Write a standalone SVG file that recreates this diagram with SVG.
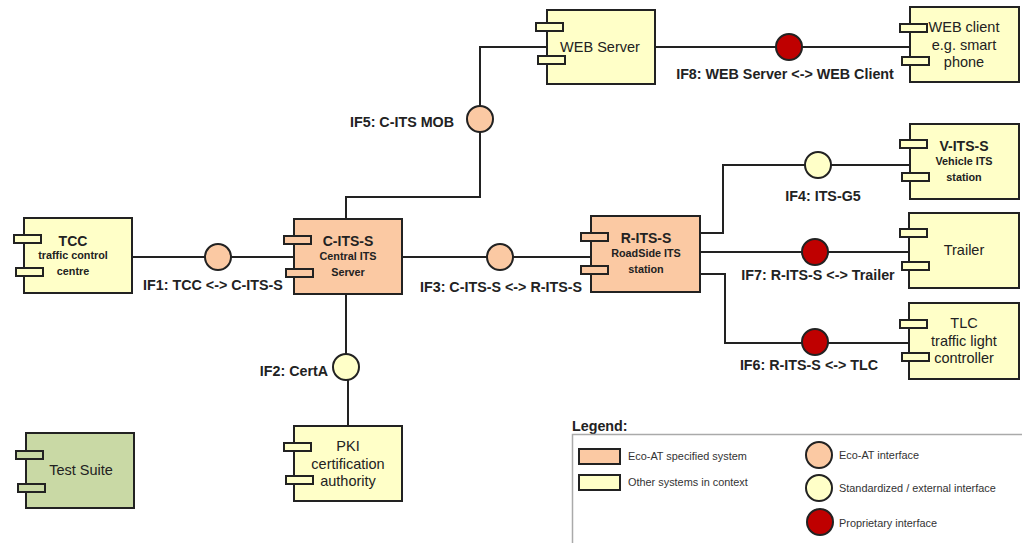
<svg xmlns="http://www.w3.org/2000/svg" width="1022" height="543" viewBox="0 0 1022 543">
<style>
text{font-family:"Liberation Sans",Arial,sans-serif;fill:#222;text-anchor:middle}
.b{stroke:#222;stroke-width:2}
.o{fill:#fbc9a3}.y{fill:#ffffc8}.g{fill:#c9d9a5}.r{fill:#bf0000}
.t{font-size:14px;font-weight:bold}
.s{font-size:10.800px;font-weight:bold}
.n{font-size:14.500px}
.l{font-size:14.300px;font-weight:bold}
.k{font-size:10.900px;text-anchor:start;fill:#333}
.c{fill:none;stroke:#222;stroke-width:2}
</style>
<g id="connectors">
<path class="c" d="M132 257H294"/>
<path class="c" d="M346 294V367M348 367V426"/>
<path class="c" d="M402 257H591"/>
<path class="c" d="M346 219V197H480V47H547"/>
<path class="c" d="M655 47H909"/>
<path class="c" d="M700 233H723V165H909"/>
<path class="c" d="M700 252H909"/>
<path class="c" d="M700 274H725V343H909"/>
</g>
<g id="tcc"><rect class="b y" x="24" y="218" width="108" height="75"/><rect class="b y" x="14" y="235" width="27" height="8"/><rect class="b y" x="16" y="268" width="27" height="8"/><text class="t" x="73" y="246">TCC</text><text class="s" x="73" y="259">traffic control</text><text class="s" x="73" y="275">centre</text></g>
<g id="c-its-s"><rect class="b o" x="294" y="219" width="108" height="75"/><rect class="b o" x="284" y="236" width="27" height="8"/><rect class="b o" x="286" y="269" width="27" height="8"/><text class="t" x="348" y="246">C-ITS-S</text><text class="s" x="348" y="260">Central ITS</text><text class="s" x="348" y="276">Server</text></g>
<g id="r-its-s"><rect class="b o" x="591" y="216" width="109" height="76"/><rect class="b o" x="581" y="233" width="27" height="8"/><rect class="b o" x="581" y="266" width="27" height="8"/><text class="t" x="646" y="243">R-ITS-S</text><text class="s" x="646" y="257">RoadSide ITS</text><text class="s" x="646" y="273">station</text></g>
<g id="pki"><rect class="b y" x="294" y="426" width="108" height="75"/><rect class="b y" x="284" y="443" width="27" height="8"/><rect class="b y" x="286" y="476" width="27" height="8"/><text class="n" x="348" y="451">PKI</text><text class="n" x="348" y="469">certification</text><text class="n" x="348" y="486">authority</text></g>
<g id="test-suite"><rect class="b g" x="26" y="433" width="108" height="75"/><rect class="b g" x="16" y="451" width="27" height="8"/><rect class="b g" x="18" y="484" width="27" height="8"/><text class="n" x="81" y="475">Test Suite</text></g>
<g id="web-server"><rect class="b y" x="547" y="10" width="108" height="74"/><rect class="b y" x="536" y="23" width="27" height="8"/><rect class="b y" x="538" y="56" width="27" height="8"/><text class="n" x="600" y="52">WEB Server</text></g>
<g id="web-client"><rect class="b y" x="910" y="7" width="109" height="75"/><rect class="b y" x="900" y="24" width="27" height="8"/><rect class="b y" x="902" y="57" width="27" height="8"/><text class="n" x="964" y="32">WEB client</text><text class="n" x="964" y="50">e.g. smart</text><text class="n" x="964" y="67">phone</text></g>
<g id="v-its-s"><rect class="b y" x="910" y="124" width="109" height="75"/><rect class="b y" x="900" y="140" width="27" height="8"/><rect class="b y" x="902" y="173" width="27" height="8"/><text class="t" x="964" y="151">V-ITS-S</text><text class="s" x="964" y="165">Vehicle ITS</text><text class="s" x="964" y="181">station</text></g>
<g id="trailer"><rect class="b y" x="909" y="213" width="110" height="75"/><rect class="b y" x="900" y="229" width="27" height="8"/><rect class="b y" x="902" y="262" width="27" height="8"/><text class="n" x="964" y="255">Trailer</text></g>
<g id="tlc"><rect class="b y" x="909" y="303" width="110" height="76"/><rect class="b y" x="900" y="320" width="27" height="8"/><rect class="b y" x="902" y="353" width="27" height="8"/><text class="n" x="964" y="328">TLC</text><text class="n" x="964" y="346">traffic light</text><text class="n" x="964" y="363">controller</text></g>
<g id="if1"><circle class="b o" cx="218" cy="257" r="13"/><text class="l" x="213" y="290">IF1: TCC &lt;-&gt; C-ITS-S</text></g>
<g id="if2"><circle class="b y" cx="346" cy="367" r="13"/><text class="l" x="294" y="376">IF2: CertA</text></g>
<g id="if3"><circle class="b o" cx="500" cy="257" r="13"/><text class="l" x="501" y="292">IF3: C-ITS-S &lt;-&gt; R-ITS-S</text></g>
<g id="if4"><circle class="b y" cx="818" cy="165" r="13"/><text class="l" x="823" y="201">IF4: ITS-G5</text></g>
<g id="if5"><circle class="b o" cx="480" cy="119" r="13"/><text class="l" x="402" y="127">IF5: C-ITS MOB</text></g>
<g id="if6"><circle class="b r" cx="815" cy="342" r="13"/><text class="l" x="809" y="370">IF6: R-ITS-S &lt;-&gt; TLC</text></g>
<g id="if7"><circle class="b r" cx="815" cy="252" r="13"/><text class="l" x="818" y="280">IF7: R-ITS-S &lt;-&gt; Trailer</text></g>
<g id="if8"><circle class="b r" cx="789" cy="47" r="13"/><text class="l" x="785" y="79">IF8: WEB Server &lt;-&gt; WEB Client</text></g>
<g id="legend">
<text class="l" x="572" y="431" style="text-anchor:start">Legend:</text>
<path d="M1022 434.500H572.500V543" fill="none" stroke="#aaa" stroke-width="1.500"/>
<rect class="b o" x="579" y="449" width="41" height="15"/><text class="k" x="628" y="460">Eco-AT specified system</text>
<rect class="b y" x="579" y="475" width="41" height="15"/><text class="k" x="628" y="486">Other systems in context</text>
<circle class="b o" cx="819" cy="455" r="13"/><text class="k" x="839" y="459">Eco-AT interface</text>
<circle class="b y" cx="819" cy="488" r="13"/><text class="k" x="839" y="492">Standardized / external interface</text>
<circle class="b r" cx="820" cy="522" r="13"/><text class="k" x="839" y="527">Proprietary interface</text>
</g>
</svg>
